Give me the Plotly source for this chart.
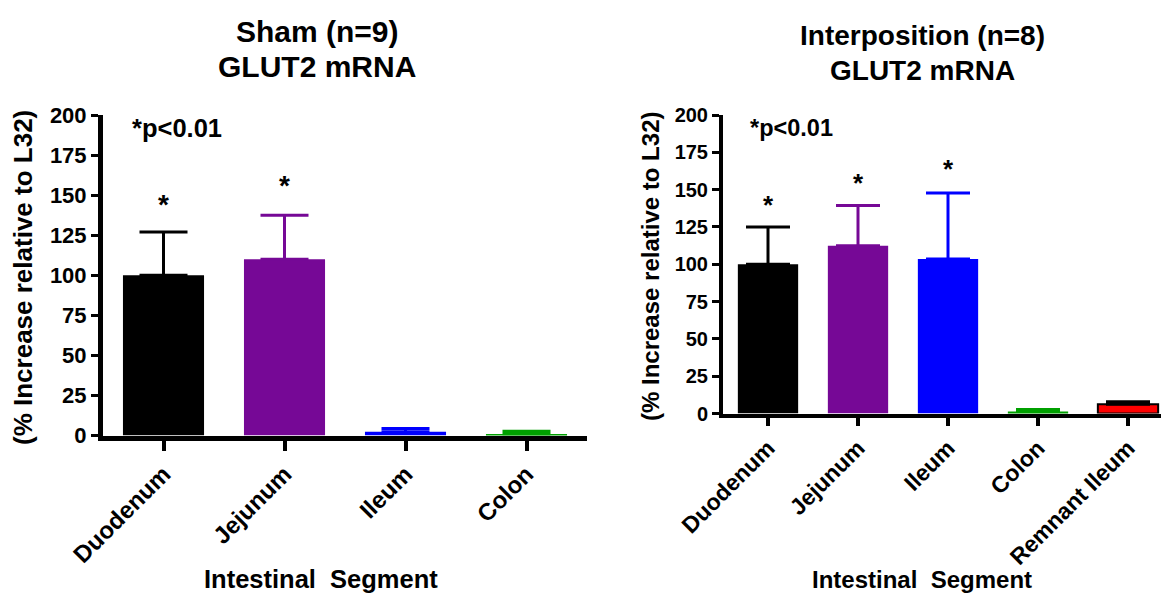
import plotly.graph_objects as go

# ---------------- data ----------------
sham_categories = ["Duodenum", "Jejunum", "Ileum", "Colon"]
sham_mean = [100, 110, 2.3, 1.0]
sham_sem = [27, 27.4, 2.0, 1.6]
sham_star_y = [148, 160]          # significance asterisks (Duodenum, Jejunum)

interp_categories = ["Duodenum", "Jejunum", "Ileum", "Colon", "Remnant Ileum"]
interp_mean = [100, 112.4, 103.5, 1.3, 6.2]
interp_sem = [25, 27, 44.3, 1.3, 1.7]
interp_star_y = [144, 158.6, 168]  # Duodenum, Jejunum, Ileum

y_ticks = [0, 25, 50, 75, 100, 125, 150, 175, 200]

# ---------------- styles ----------------
FONT = "Liberation Sans, Arial, sans-serif"
sham_colors = ["#000000", "#760896", "#0000FF", "#00A000"]
sham_err_colors = ["#000000", "#760896", "#0000FF", "#00A000"]
interp_colors = ["#000000", "#760896", "#0000FF", "#00A000", "#FF0000"]
interp_err_colors = ["#000000", "#760896", "#0000FF", "#00A000", "#000000"]
interp_line_colors = ["#000000", "#760896", "#0000FF", "#00A000", "#000000"]

W, H = 1161, 594
def fx(p):
    return p / W
def fy(p):
    return 1 - p / H

fig = go.Figure()

for i, cat in enumerate(sham_categories):
    fig.add_trace(go.Bar(
        x=[cat], y=[sham_mean[i]], width=0.67,
        marker=dict(color=sham_colors[i], line=dict(width=0)),
        error_y=dict(type="data", array=[sham_sem[i]], arrayminus=[0], symmetric=False,
                     color=sham_err_colors[i], thickness=3, width=24),
        xaxis="x", yaxis="y", showlegend=False, hoverinfo="x+y",
    ))

for i, cat in enumerate(interp_categories):
    fig.add_trace(go.Bar(
        x=[cat], y=[interp_mean[i]], width=0.67,
        marker=dict(color=interp_colors[i], line=dict(width=2 if i == 4 else 0, color=interp_line_colors[i])),
        error_y=dict(type="data", array=[interp_sem[i]], arrayminus=[0], symmetric=False,
                     color=interp_err_colors[i], thickness=3, width=22),
        xaxis="x2", yaxis="y2", showlegend=False, hoverinfo="x+y",
    ))

common_y = dict(range=[0, 200], tickvals=y_ticks, ticks="outside", ticklen=7, tickwidth=3,
                tickcolor="black", showline=True, linecolor="black", showgrid=False,
                zeroline=False, fixedrange=True, automargin=False)
common_x = dict(type="category", ticks="outside", tickwidth=4, tickcolor="black",
                showline=True, linecolor="black", showgrid=False, tickangle=-45,
                fixedrange=True, automargin=False)

fig.update_layout(
    width=W, height=H,
    margin=dict(l=0, r=0, t=0, b=0, autoexpand=False),
    paper_bgcolor="white", plot_bgcolor="white",
    barmode="overlay",
    font=dict(family=FONT, color="black", weight="bold"),
    xaxis=dict(common_x, domain=[fx(103), fx(587)], range=[-0.5, 3.5],
               categoryorder="array", categoryarray=sham_categories, anchor="y",
               ticklen=10, linewidth=5,
               tickfont=dict(family=FONT, size=24, color="black", weight="bold")),
    yaxis=dict(common_y, domain=[fy(435.5), fy(115)], anchor="x", linewidth=5,
               tickfont=dict(family=FONT, size=22, color="black", weight="bold")),
    xaxis2=dict(common_x, domain=[fx(723), 1.0], range=[-0.5, (W - 723) / 90 - 0.5],
                categoryorder="array", categoryarray=interp_categories, anchor="y2",
                ticklen=8, linewidth=4,
                tickfont=dict(family=FONT, size=23, color="black", weight="bold")),
    yaxis2=dict(common_y, domain=[fy(413.5), fy(115)], anchor="x2", linewidth=4,
                tickfont=dict(family=FONT, size=20, color="black", weight="bold")),
)

ann = []
def txt(text, x, y, size, xref="paper", yref="paper", xanchor="center", yanchor="middle",
        angle=0, yshift=0):
    ann.append(dict(text=text, x=x, y=y, xref=xref, yref=yref, xanchor=xanchor, yanchor=yanchor,
                    showarrow=False, textangle=angle, yshift=yshift,
                    font=dict(family=FONT, size=size, color="black", weight="bold")))

# titles
txt("Sham (n=9)", fx(317), fy(32), 30)
txt("GLUT2 mRNA", fx(317), fy(66), 30)
txt("Interposition (n=8)", fx(922), fy(36), 28)
txt("GLUT2 mRNA", fx(922), fy(71), 28)

# y-axis titles
txt("(% Increase relative to L32)", fx(23), fy(278), 26, angle=-90)
txt("(% Increase relative to L32)", fx(650), fy(267), 24, angle=-90)

# x-axis titles
txt("Intestinal  Segment", fx(321), fy(579), 25.5)
txt("Intestinal  Segment", fx(922), fy(579), 24)

# p-value notes
txt("*p<0.01", -0.28, 192, 25.5, xref="x", yref="y", xanchor="left")
txt("*p<0.01", -0.222, 191.6, 23.5, xref="x2", yref="y2", xanchor="left")

# significance asterisks
for i, yv in enumerate(sham_star_y):
    txt("*", sham_categories[i], yv, 28, xref="x", yref="y", yshift=-6)
for i, yv in enumerate(interp_star_y):
    txt("*", interp_categories[i], yv, 26, xref="x2", yref="y2", yshift=-6)

fig.update_layout(annotations=ann)
fig.write_html("out.html")
